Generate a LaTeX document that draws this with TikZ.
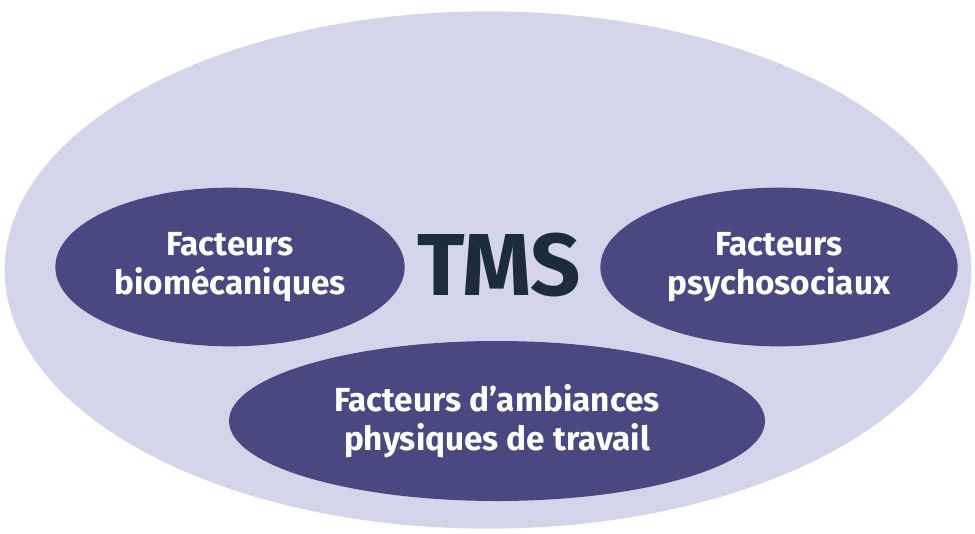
\documentclass[tikz,border=0pt]{standalone}
\usepackage{fontspec}
\setmainfont{Fira Sans}
\usetikzlibrary{shapes.geometric}

\definecolor{fondclair}{HTML}{D4D4EA}
\definecolor{facteur}{HTML}{4A4880}
\definecolor{titre}{HTML}{1C2B3F}

\begin{document}
\begin{tikzpicture}[
            x=0.75pt, y=-0.75pt, % 1 unité = 1 pixel de la référence
            facteur/.style={
                ellipse, % forme elliptique
                fill=facteur, % couleur de fond
                text=white, % texte blanc
                align=center, % texte centré
                inner sep=0, % pas de marge
                font=\bfseries\fontsize{25}{29.5}\selectfont % taille du texte
            }
        ]
        \useasboundingbox (0,0) rectangle (975,533);

        % grande ellipse de fond
        \node (fond) [ellipse, fill=fondclair, minimum width=725pt, minimum height=388pt] at (488,270) {};

        % titre central
        \node (tms) [text=titre, font=\bfseries\fontsize{66}{66}\selectfont] at (499,265) {TMS};

        % les trois familles de facteurs
        \node (bio) [facteur, minimum width=262pt, minimum height=119pt] at (230,267) {Facteurs\\biomécaniques};
        \node (psy) [facteur, minimum width=268pt, minimum height=119pt] at (779,267) {Facteurs\\psychosociaux};
        \node (amb) [facteur, minimum width=402pt, minimum height=120pt] at (497,421) {Facteurs d’ambiances\\physiques de travail};
        \end{tikzpicture}
\end{document}
